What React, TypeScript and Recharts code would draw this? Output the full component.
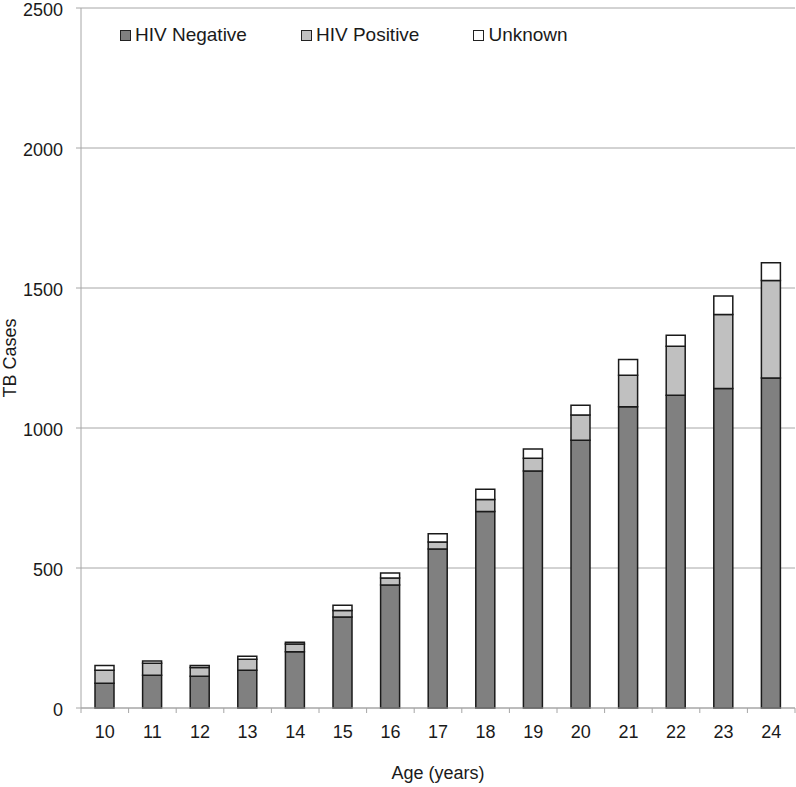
import React from 'react'
import { BarChart, Bar, XAxis, YAxis, CartesianGrid } from 'recharts'

const ages = ['10', '11', '12', '13', '14', '15', '16', '17', '18', '19', '20', '21', '22', '23', '24']
const hivNegative = [88, 117, 113, 135, 201, 325, 439, 568, 702, 846, 956, 1076, 1117, 1141, 1179]
const hivPositive = [47, 43, 32, 39, 28, 23, 25, 25, 43, 46, 90, 112, 175, 264, 348]
const unknown = [17, 8, 7, 11, 6, 19, 18, 29, 36, 33, 35, 57, 39, 66, 63]
const yTicks = [0, 500, 1000, 1500, 2000, 2500]

const SERIES = [
  { key: 'neg', name: 'HIV Negative', fill: '#808080' },
  { key: 'pos', name: 'HIV Positive', fill: '#c0c0c0' },
  { key: 'unk', name: 'Unknown', fill: '#ffffff' },
]

const FONT = '"Liberation Sans", Arial, sans-serif'
const AXIS = '#a6a6a6'
const TEXT = '#1a1a1a'
const TICK_GAP = 17

const data = ages.map((age, i) => ({
  age,
  neg: hivNegative[i],
  pos: hivPositive[i],
  unk: unknown[i],
}))

// label at the band centre, tick marks on the band edges (Excel style)
function CategoryTick(props: any) {
  const { x, y, payload, index, width, visibleTicksCount } = props
  const half = payload?.offset > 0 ? payload.offset : width / visibleTicksCount / 2
  const axisY = y - TICK_GAP
  const isLast = index === visibleTicksCount - 1
  return (
    <g>
      <line x1={x - half} x2={x - half} y1={axisY} y2={axisY + 5} stroke={AXIS} />
      {isLast && <line x1={x + half} x2={x + half} y1={axisY} y2={axisY + 5} stroke={AXIS} />}
      <text x={x} y={y} dy="0.71em" textAnchor="middle" fontFamily={FONT} fontSize={18} fill={TEXT}>
        {payload.value}
      </text>
    </g>
  )
}

function ValueTick(props: any) {
  const { x, y, payload } = props
  return (
    <text x={x} y={y} dy="0.42em" textAnchor="end" fontFamily={FONT} fontSize={18} fill={TEXT}>
      {payload.value}
    </text>
  )
}

function LegendBox() {
  return (
    <div style={{
      position: 'absolute',
      top: 23,
      left: 120,
      display: 'flex',
      fontFamily: FONT,
      fontSize: 19,
      color: TEXT,
      lineHeight: '24px',
    }}>
      {SERIES.map((s) => (
        <div key={s.key} style={{ display: 'flex', alignItems: 'center', marginRight: 54 }}>
          <span style={{
            display: 'inline-block',
            width: 9,
            height: 9,
            background: s.fill,
            border: '1px solid #222',
            marginRight: 4,
          }} />
          {s.name}
        </div>
      ))}
    </div>
  )
}

export default function App() {
  return (
    <div style={{ position: 'absolute', left: 0, top: 0, width: 796, height: 787, background: '#fff' }}>
      <BarChart
        width={796}
        height={787}
        data={data}
        margin={{ top: 8, right: 1, bottom: 0, left: 0 }}
        barCategoryGap={0}
      >
        <CartesianGrid vertical={false} stroke={AXIS} strokeWidth={1} />
        <XAxis
          dataKey="age"
          height={79}
          interval={0}
          axisLine={{ stroke: AXIS }}
          tickLine={false}
          tickSize={0}
          tickMargin={TICK_GAP}
          tick={<CategoryTick />}
          label={{ value: 'Age (years)', position: 'insideBottom', offset: 8, style: { fontFamily: FONT, fontSize: 18, fill: TEXT } }}
        />
        <YAxis
          width={81}
          domain={[0, 2500]}
          ticks={yTicks}
          interval={0}
          axisLine={{ stroke: AXIS }}
          tickLine={{ stroke: AXIS }}
          tickSize={5}
          tickMargin={13}
          tick={<ValueTick />}
          label={({ viewBox }: any) => (
            <text
              x={16}
              y={viewBox.y + viewBox.height / 2}
              transform={`rotate(-90, 16, ${viewBox.y + viewBox.height / 2})`}
              textAnchor="middle"
              fontFamily={FONT}
              fontSize={18}
              fill={TEXT}
            >
              TB Cases
            </text>
          )}
        />
        {SERIES.map((s) => (
          <Bar
            key={s.key}
            dataKey={s.key}
            name={s.name}
            stackId="a"
            fill={s.fill}
            stroke="#1a1a1a"
            strokeWidth={1.5}
            barSize={19}
            isAnimationActive={false}
          />
        ))}
      </BarChart>
      <LegendBox />
    </div>
  )
}
